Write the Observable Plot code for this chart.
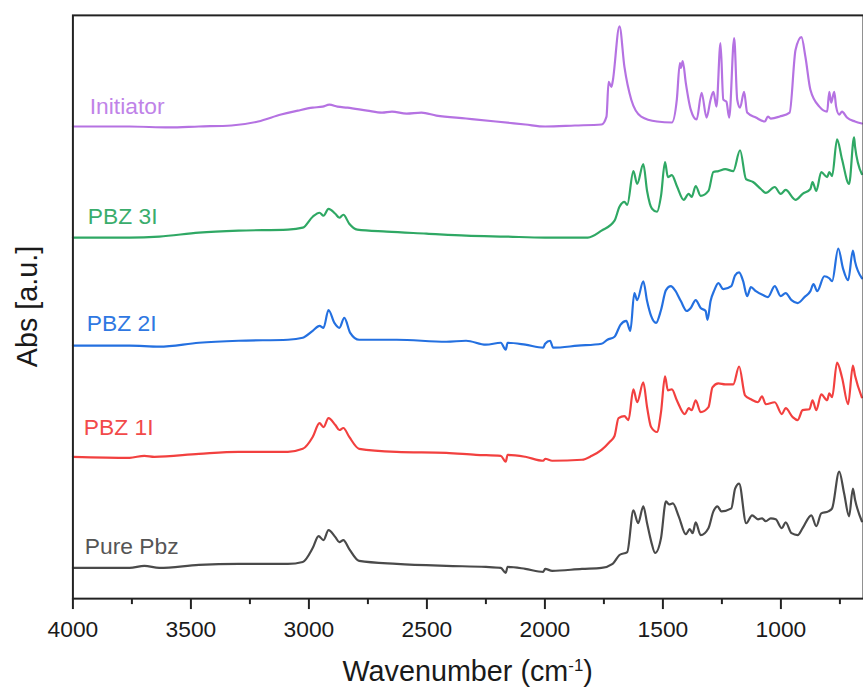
<!DOCTYPE html>
<html>
<head>
<meta charset="utf-8">
<script src="https://cdn.jsdelivr.net/npm/d3@7"></script>
<script src="https://cdn.jsdelivr.net/npm/@observablehq/plot@0.6"></script>
<style>
  html, body { margin: 0; padding: 0; background: #fff; overflow: hidden; }
  #chart { width: 863px; height: 691px; overflow: hidden; }
</style>
</head>
<body>
<div id="chart"></div>
<script>
// FTIR spectra, stacked: [wavenumber (cm-1), absorbance (a.u., offset per trace)]
const initiator = [
  [4000,4.76],[3760,4.76],[3592,4.75],[3466,4.76],[3328,4.77],[3215,4.81],[3118,4.88],[3047,4.92],
  [2984,4.95],[2942,4.96],[2913,4.98],[2879,4.96],[2837,4.95],[2753,4.92],[2690,4.90],[2648,4.91],
  [2586,4.89],[2523,4.90],[2460,4.87],[2334,4.84],[2208,4.81],[2083,4.78],[1999,4.76],[1873,4.77],
  [1760,4.78],[1739,4.86],[1730,5.21],[1718,5.16],[1713,5.21],[1684,5.77],[1663,5.36],[1634,5.03],
  [1592,4.86],[1525,4.81],[1462,4.80],[1441,5.03],[1428,5.40],[1424,5.35],[1416,5.42],[1403,5.20],
  [1382,4.93],[1357,4.83],[1336,5.10],[1315,4.85],[1298,5.03],[1286,5.11],[1273,4.96],[1256,5.60],
  [1244,5.03],[1231,5.01],[1219,4.85],[1198,5.65],[1185,5.03],[1173,4.95],[1156,5.11],[1143,4.90],
  [1106,4.85],[1068,4.81],[1055,4.86],[1043,4.84],[1005,4.86],[963,4.90],[938,5.53],[913,5.66],
  [896,5.46],[875,5.13],[837,4.96],[804,4.91],[795,5.11],[787,5.00],[774,5.11],[766,4.96],
  [753,4.88],[741,4.91],[720,4.85],[686,4.81],[657,4.79]
];
const pbz3I = [
  [4000,3.64],[3760,3.64],[3634,3.65],[3466,3.69],[3298,3.71],[3089,3.72],[3026,3.74],[2984,3.85],
  [2955,3.89],[2938,3.86],[2917,3.93],[2888,3.88],[2871,3.84],[2854,3.87],[2829,3.78],[2795,3.72],
  [2670,3.70],[2502,3.68],[2334,3.66],[2166,3.65],[1999,3.64],[1818,3.64],[1760,3.71],[1705,3.81],
  [1684,3.95],[1663,4.00],[1651,3.97],[1625,4.31],[1609,4.18],[1583,4.38],[1567,4.11],[1546,3.93],
  [1525,3.90],[1508,4.06],[1491,4.40],[1479,4.25],[1462,4.27],[1441,4.16],[1412,4.02],[1391,4.08],
  [1378,4.05],[1361,4.16],[1340,4.06],[1307,4.11],[1286,4.30],[1265,4.31],[1236,4.33],[1202,4.31],
  [1173,4.52],[1148,4.23],[1118,4.20],[1085,4.13],[1064,4.09],[1026,4.15],[1001,4.08],[980,4.12],
  [938,4.02],[908,4.08],[875,4.13],[866,4.20],[850,4.11],[829,4.30],[804,4.25],[795,4.30],
  [783,4.26],[762,4.63],[741,4.43],[711,4.18],[690,4.65],[686,4.56],[657,4.28]
];
const pbz2I = [
  [4000,2.55],[3760,2.55],[3634,2.54],[3466,2.58],[3298,2.60],[3089,2.61],[3026,2.63],[2984,2.70],
  [2955,2.75],[2938,2.73],[2917,2.91],[2892,2.78],[2871,2.73],[2850,2.83],[2825,2.68],[2787,2.61],
  [2628,2.61],[2418,2.59],[2334,2.60],[2250,2.56],[2187,2.58],[2166,2.51],[2158,2.58],[2083,2.56],
  [2007,2.53],[1999,2.57],[1978,2.60],[1965,2.53],[1860,2.55],[1760,2.57],[1735,2.61],[1705,2.64],
  [1680,2.76],[1655,2.80],[1638,2.70],[1621,3.08],[1609,3.01],[1583,3.20],[1567,3.00],[1550,2.85],
  [1529,2.78],[1508,2.91],[1487,3.11],[1466,3.15],[1449,3.11],[1424,3.00],[1399,2.90],[1382,2.93],
  [1361,3.01],[1340,2.93],[1319,2.90],[1311,2.81],[1298,3.00],[1282,3.11],[1265,3.18],[1244,3.12],
  [1210,3.15],[1194,3.26],[1177,3.29],[1160,3.20],[1143,3.05],[1127,3.14],[1106,3.10],[1076,3.06],
  [1055,3.04],[1026,3.15],[1001,3.05],[980,3.08],[955,3.01],[929,2.98],[900,3.04],[875,3.10],
  [862,3.17],[846,3.10],[816,3.25],[795,3.23],[783,3.20],[757,3.53],[737,3.33],[715,3.21],
  [695,3.51],[686,3.40],[657,3.23]
];
const pbz1I = [
  [4000,1.43],[3760,1.42],[3697,1.44],[3655,1.43],[3466,1.46],[3298,1.48],[3089,1.48],[3026,1.51],
  [2984,1.63],[2955,1.77],[2938,1.73],[2917,1.82],[2888,1.75],[2871,1.70],[2854,1.72],[2829,1.63],
  [2787,1.51],[2628,1.48],[2418,1.47],[2292,1.45],[2187,1.44],[2166,1.38],[2158,1.45],[2083,1.43],
  [2007,1.39],[1999,1.41],[1969,1.39],[1843,1.40],[1801,1.44],[1760,1.50],[1726,1.58],[1705,1.64],
  [1688,1.82],[1663,1.84],[1646,1.80],[1625,2.11],[1609,1.98],[1583,2.18],[1567,1.93],[1550,1.73],
  [1525,1.68],[1508,1.88],[1491,2.24],[1479,2.10],[1462,2.11],[1441,2.00],[1407,1.86],[1391,1.92],
  [1378,1.90],[1361,2.00],[1340,1.88],[1307,1.93],[1290,2.13],[1265,2.17],[1236,2.16],[1202,2.16],
  [1177,2.34],[1152,2.05],[1127,2.01],[1097,1.98],[1080,2.04],[1064,1.96],[1026,1.98],[996,1.86],
  [980,1.92],[950,1.83],[929,1.80],[908,1.90],[879,1.91],[866,2.00],[850,1.90],[829,2.06],
  [804,2.00],[795,2.07],[783,2.03],[762,2.38],[741,2.23],[715,1.96],[695,2.35],[686,2.25],[657,2.03]
];
const purePbz = [
  [4000,0.31],[3760,0.31],[3697,0.33],[3634,0.31],[3466,0.34],[3298,0.35],[3089,0.35],[3026,0.37],
  [2984,0.51],[2959,0.63],[2938,0.59],[2917,0.69],[2888,0.62],[2871,0.57],[2854,0.59],[2829,0.50],
  [2787,0.38],[2628,0.35],[2418,0.33],[2250,0.32],[2187,0.31],[2166,0.26],[2158,0.32],[2083,0.30],
  [2007,0.27],[1999,0.30],[1969,0.28],[1843,0.30],[1760,0.31],[1713,0.35],[1684,0.44],[1651,0.47],
  [1625,0.89],[1605,0.76],[1583,0.93],[1567,0.76],[1550,0.58],[1533,0.46],[1508,0.61],[1487,0.98],
  [1474,0.95],[1458,0.96],[1433,0.83],[1403,0.65],[1386,0.70],[1374,0.66],[1361,0.77],[1340,0.64],
  [1307,0.71],[1286,0.88],[1269,0.93],[1252,0.88],[1210,0.91],[1194,1.11],[1177,1.16],[1147,0.76],
  [1122,0.84],[1097,0.80],[1080,0.81],[1064,0.78],[1043,0.81],[1022,0.80],[996,0.71],[980,0.77],
  [955,0.66],[929,0.64],[908,0.71],[871,0.84],[850,0.73],[829,0.86],[799,0.88],[783,0.91],
  [753,1.28],[732,1.06],[711,0.83],[695,1.11],[686,1.00],[657,0.78]
];

const names = ["Initiator", "PBZ 3I", "PBZ 2I", "PBZ 1I", "Pure Pbz"];
const spectra = [initiator, pbz3I, pbz2I, pbz1I, purePbz];
const majorTicks = [4000, 3500, 3000, 2500, 2000, 1500, 1000];
const minorTicks = [3750, 3250, 2750, 2250, 1750, 1250, 750];

const colors = ["#b572e2", "#2fa864", "#2470e0", "#f2403f", "#4a4a4a"];
const labelColors = ["#c083e8", "#3aad6c", "#2f78e2", "#f24a4a", "#555555"];
// label offsets (px) from each trace's starting point
const labelDx = [17, 15, 14, 11, 12];
const labelDy = [-13, -14, -15, -22, -14];

const rows = spectra.flatMap((s, i) => s.map(([wn, abs]) => ({name: names[i], wn, abs})));

const font = "'Liberation Sans', Arial, Helvetica, sans-serif";

const labelMarks = spectra.map((s, i) =>
  Plot.text([{name: names[i], wn: s[0][0], abs: s[0][1]}], {
    x: "wn", y: "abs", text: "name", textAnchor: "start", lineAnchor: "bottom",
    fill: labelColors[i], fontSize: 23, dx: labelDx[i], dy: labelDy[i]
  })
);

const plot = Plot.plot({
  width: 870,
  height: 691,
  marginLeft: 73,
  marginRight: 0,
  marginTop: 15,
  marginBottom: 88,
  style: {fontFamily: font, background: "#fff", overflow: "visible"},
  x: {domain: [4000, 650], axis: null},
  y: {domain: [0, 5.88], axis: null},
  color: {domain: names, range: colors},
  marks: [
    Plot.line(rows, {x: "wn", y: "abs", z: "name", stroke: "name", strokeWidth: 2.2, curve: "monotone-x"}),
    Plot.axisX({ticks: minorTicks, tickSize: 6, tickFormat: () => "", label: null, stroke: "#222", strokeWidth: 2}),
    Plot.axisX({ticks: majorTicks, tickSize: 11, tickPadding: 11, tickFormat: "d", fontSize: 23, label: null,
      stroke: "#222", strokeWidth: 2, fill: "#1a1a1a"}),
    Plot.frame({stroke: "#222", strokeWidth: 2}),
    ...labelMarks
  ]
});

const svg = d3.select(plot);
svg.append("text")
  .attr("x", (73 + 870) / 2)
  .attr("y", 687)
  .attr("text-anchor", "middle")
  .attr("font-family", font)
  .attr("font-size", 29)
  .attr("fill", "#1a1a1a")
  .call(t => {
    t.append("tspan").text("Wavenumber (cm");
    t.append("tspan").attr("font-size", 17).attr("dy", -11).text("-1");
    t.append("tspan").attr("dy", 11).text(")");
  });
svg.append("text")
  .attr("transform", "translate(37,309) rotate(-90)")
  .attr("text-anchor", "middle")
  .attr("font-family", font)
  .attr("font-size", 29)
  .attr("fill", "#1a1a1a")
  .text("Abs [a.u.]");

document.getElementById("chart").appendChild(plot);
</script>
</body>
</html>
